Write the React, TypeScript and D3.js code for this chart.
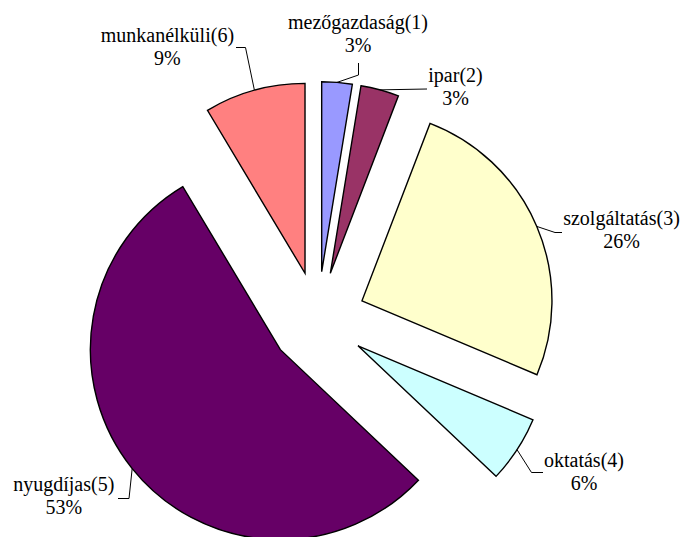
import React, { useEffect, useRef } from "react";
import * as d3 from "d3";

// categories and shares (shares as drawn, labels as printed)
const categories = [
  "mezőgazdaság(1)",
  "ipar(2)",
  "szolgáltatás(3)",
  "oktatás(4)",
  "nyugdíjas(5)",
  "munkanélküli(6)",
];
const shares = [2.58, 3.25, 25.53, 5.69, 54.36, 8.58];
const percentLabels = ["3%", "3%", "26%", "6%", "53%", "9%"];
const colors = ["#9999FF", "#993366", "#FFFFCC", "#CCFFFF", "#660066", "#FF8080"];

// where each label sits and how its leader line bends
const labelLayout = [
  { x: 358, y: 28.5, elbow: [358.5, 75], end: [358.5, 63] },
  { x: 455.5, y: 81.5, elbow: null, end: [427, 89] },
  { x: 621.5, y: 225, elbow: [555, 232.5], end: [562, 232.5] },
  { x: 584, y: 467, elbow: [531.5, 472.5], end: [543, 472.5] },
  { x: 63.8, y: 490.7, elbow: [129, 498.5], end: [118, 498.5] },
  { x: 167.4, y: 42, elbow: [245.5, 47.5], end: [236, 47.5] },
];

const PieChart = () => {
  const svgRef = useRef<SVGSVGElement | null>(null);

  useEffect(() => {
    const width = 681;
    const height = 537;
    const radius = 190;
    const explode = 48;
    const cx = 317.8;
    const cy = 319.6;

    const svg = d3.select(svgRef.current);
    svg.selectAll("*").remove();
    svg.attr("width", width).attr("height", height);

    const data = categories.map((c, i) => ({ name: c, value: shares[i], i }));

    const pie = d3
      .pie<any>()
      .sort(null)
      .value((d) => d.value);
    const arc = d3.arc<any>().innerRadius(0).outerRadius(radius);
    const arcs = pie(data);

    const offset = (d: any, r: number) => {
      const a = (d.startAngle + d.endAngle) / 2;
      return [Math.sin(a) * r, -Math.cos(a) * r];
    };

    const g = svg.append("g").attr("transform", `translate(${cx},${cy})`);

    g.selectAll("path")
      .data(arcs)
      .join("path")
      .attr("d", arc)
      .attr("transform", (d) => {
        const [ox, oy] = offset(d, explode);
        return `translate(${ox},${oy})`;
      })
      .attr("fill", (d) => colors[d.data.i])
      .attr("stroke", "#000")
      .attr("stroke-width", 1.4)
      .attr("stroke-linejoin", "miter");

    // leader lines
    svg
      .append("g")
      .selectAll("polyline")
      .data(arcs)
      .join("polyline")
      .attr("fill", "none")
      .attr("stroke", "#000")
      .attr("stroke-width", 1)
      .attr("points", (d) => {
        const [sx, sy] = offset(d, explode + radius);
        const lay = labelLayout[d.data.i];
        const pts: number[][] = [[cx + sx, cy + sy]];
        if (lay.elbow) pts.push(lay.elbow);
        pts.push(lay.end);
        return pts.map((p) => p.join(",")).join(" ");
      });

    const labels = svg
      .append("g")
      .selectAll("text")
      .data(arcs)
      .join("text")
      .attr("text-anchor", "middle")
      .style("font-family", "'Liberation Serif', 'Times New Roman', serif")
      .style("font-size", "20px")
      .style("fill", "#000");

    labels
      .append("tspan")
      .attr("x", (d) => labelLayout[d.data.i].x)
      .attr("y", (d) => labelLayout[d.data.i].y)
      .text((d) => d.data.name);

    labels
      .append("tspan")
      .attr("x", (d) => labelLayout[d.data.i].x)
      .attr("y", (d) => labelLayout[d.data.i].y + 23.4)
      .text((d) => percentLabels[d.data.i]);
  }, []);

  return (
    <svg
      ref={svgRef}
      style={{ position: "absolute", left: 0, top: 0, background: "#fff" }}
    ></svg>
  );
};

export default function App() {
  return <PieChart />;
}
